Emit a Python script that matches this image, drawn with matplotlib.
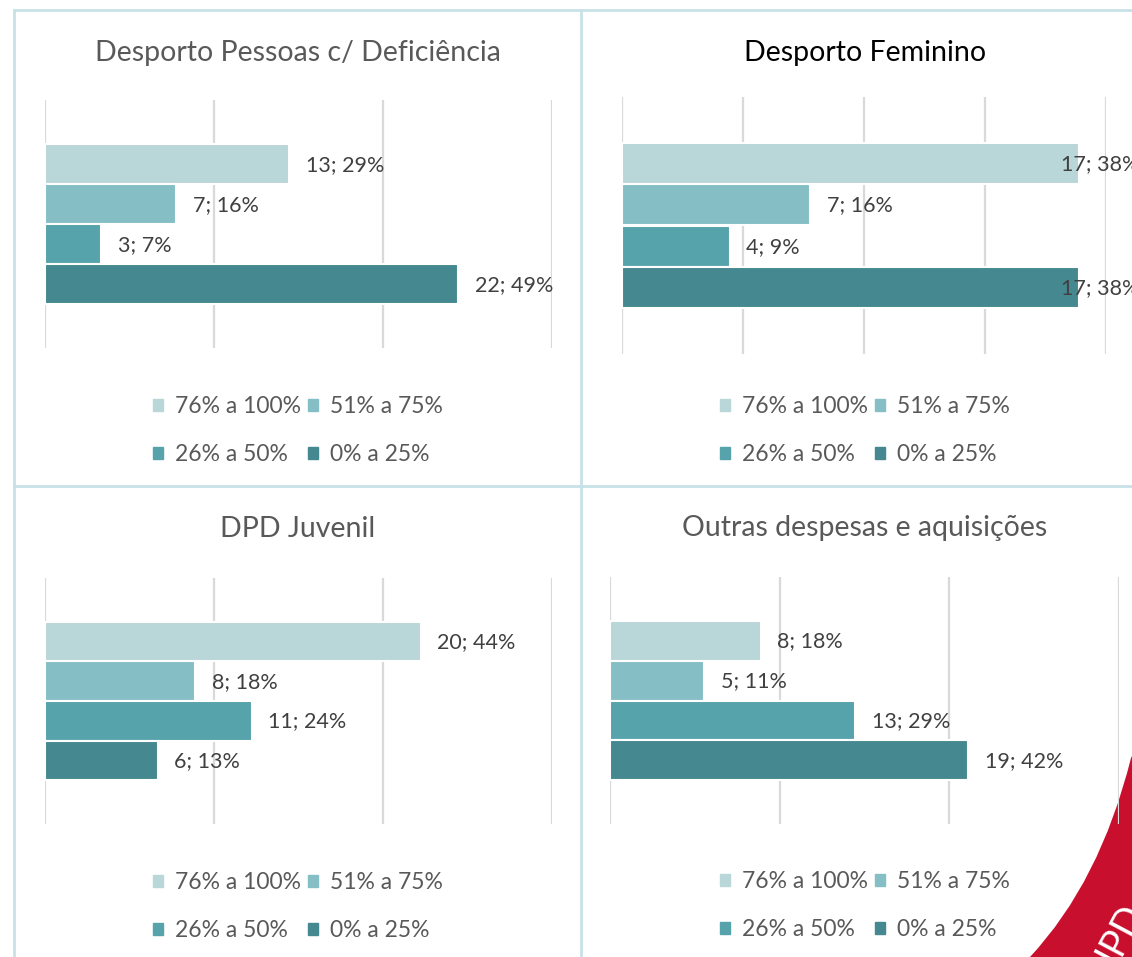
import numpy as np
import matplotlib
matplotlib.use("Agg")
import matplotlib.pyplot as plt
from matplotlib.path import Path
from matplotlib.patches import PathPatch, Patch

plt.rcParams['font.family'] = ['Lato', 'DejaVu Sans']

# data
titles = ["Desporto Pessoas c/ Deficiência", "Desporto Feminino",
          "DPD Juvenil", "Outras despesas e aquisições"]
categories = ["76% a 100%", "51% a 75%", "26% a 50%", "0% a 25%"]
counts_pessoas = [13, 7, 3, 22]
counts_feminino = [17, 7, 4, 17]
counts_juvenil = [20, 8, 11, 6]
counts_outras = [8, 5, 13, 19]
axis_max = [0.6, 0.4, 0.6, 0.6]
axis_step = [0.2, 0.1, 0.2, 0.2]

colors = ['#b9d6d9', '#85bec5', '#56a3ac', '#468890']
border = '#c7e2e7'
grey = '#595959'

W, H = 1132, 957
fig = plt.figure(figsize=(W / 100, H / 100), dpi=100)


def box(x0, y0, x1, y1):
    # pixel box -> figure fraction
    return [x0 / W, 1 - y1 / H, (x1 - x0) / W, (y1 - y0) / H]


# background overlay in pixel coords (borders, logo corner)
bg = fig.add_axes([0, 0, 1, 1], zorder=-1)
bg.set_xlim(0, W)
bg.set_ylim(H, 0)
bg.axis('off')
bg.plot([14, W], [10, 10], color=border, lw=2)
bg.plot([14, 14], [10, H], color=border, lw=2)
bg.plot([581, 581], [10, H], color=border, lw=2)
bg.plot([14, W], [486, 486], color=border, lw=2)

verts = [(1131, 758), (1100, 882), (1030, 957), (1140, 965), (1140, 740), (1131, 758)]
codes = [Path.MOVETO, Path.CURVE3, Path.CURVE3, Path.LINETO, Path.LINETO, Path.CLOSEPOLY]
bg.add_patch(PathPatch(Path(verts, codes), facecolor='#c8102e', edgecolor='none'))
bg.text(1122, 968, "IPD", color='white', fontsize=27, rotation=62,
        rotation_mode='anchor', ha='left', va='bottom')

panels = [
    (counts_pessoas, box(45, 100, 552, 348), (298, 53), grey, (298, 385)),
    (counts_feminino, box(622, 97, 1106, 354), (865, 53), 'black', (865, 385)),
    (counts_juvenil, box(45, 578, 552, 824), (298, 529), grey, (298, 861)),
    (counts_outras, box(610, 577, 1119, 824), (865, 528), grey, (865, 860)),
]

for i, (counts, rect, tpos, tcol, lpos) in enumerate(panels):
    ax = fig.add_axes(rect)
    ax.patch.set_alpha(0)
    total = sum(counts)
    pct = np.array(counts) / total
    y = np.arange(len(counts))
    ax.barh(y, pct, height=1.0, color=colors, edgecolor='white',
            linewidth=1.5, zorder=2)
    xmax = axis_max[i]
    ax.set_xlim(0, xmax)
    ax.set_ylim(4.6, -1.6)
    ax.set_xticks(np.arange(0, xmax + 1e-9, axis_step[i]))
    ax.set_yticks([])
    ax.tick_params(axis='x', length=0, labelbottom=False)
    ax.grid(axis='x', color='#d9d9d9', lw=1.6, zorder=0)
    ax.set_axisbelow(True)
    for s in ax.spines.values():
        s.set_visible(False)

    for yy, c, p in zip(y, counts, pct):
        xl = min(p, xmax * 0.872)
        ax.annotate(f"{c}; {round(p * 100)}%", xy=(xl, yy), xytext=(12, -0.5),
                    textcoords='offset points', va='center', ha='left',
                    fontsize=15.5, color='#404040', annotation_clip=False)

    fig.text(tpos[0] / W, 1 - tpos[1] / H, titles[i], ha='center', va='center',
             fontsize=20.5, color=tcol)

    handles = [Patch(color=colors[k], label=categories[k]) for k in range(4)]
    order = [0, 2, 1, 3]
    fig.legend([handles[k] for k in order], [categories[k] for k in order],
               ncol=2, loc='upper center',
               bbox_to_anchor=(lpos[0] / W, 1 - lpos[1] / H),
               frameon=False, fontsize=16.5, labelcolor=grey,
               handlelength=0.42, handleheight=0.42, handletextpad=0.55,
               columnspacing=0.3, labelspacing=1.15, borderpad=0)

fig.savefig("out.png", dpi=100)
